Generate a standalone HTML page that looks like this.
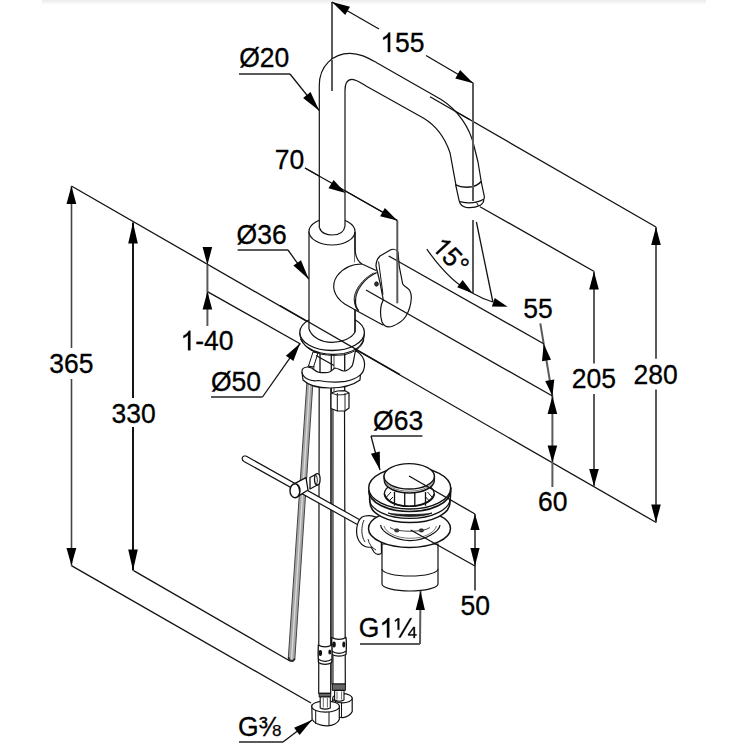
<!DOCTYPE html>
<html><head><meta charset="utf-8"><style>
html,body{margin:0;padding:0;background:#fff;}
svg{display:block;}
text{font-family:"Liberation Sans",sans-serif;fill:#000;stroke:#000;stroke-width:0.3px;}
</style></head><body>
<svg width="750" height="750" viewBox="0 0 750 750">
<defs><linearGradient id="tg" x1="0" y1="0" x2="0" y2="1"><stop offset="0" stop-color="#ebebeb"/><stop offset="1" stop-color="#fff"/></linearGradient></defs>
<rect x="42" y="0" width="664" height="5" fill="url(#tg)"/>
<line x1="71.4" y1="186.0" x2="656.2" y2="522.5" stroke="#111" stroke-width="1.3"/>
<line x1="71.4" y1="565.6" x2="311.0" y2="703.0" stroke="#111" stroke-width="1.3"/>
<line x1="133.6" y1="570.6" x2="290.0" y2="661.0" stroke="#111" stroke-width="1.3"/>
<line x1="207.4" y1="291.6" x2="300.5" y2="344.0" stroke="#111" stroke-width="1.3"/>
<line x1="71.5" y1="186.0" x2="71.5" y2="348.0" stroke="#444" stroke-width="1.6"/>
<line x1="71.5" y1="379.0" x2="71.5" y2="565.6" stroke="#444" stroke-width="1.6"/>
<polygon points="71.4,186.0 76.3,204.0 66.5,204.0" fill="#000"/>
<polygon points="71.4,565.6 66.5,548.0 76.3,548.0" fill="#000"/>
<g transform="translate(49.20,372.55) scale(1,1.05)"><text x="0.00" y="0" font-size="26.5">365</text></g>
<line x1="133.0" y1="222.4" x2="133.0" y2="398.0" stroke="#151515" stroke-width="2.0"/>
<line x1="133.0" y1="427.0" x2="133.0" y2="570.6" stroke="#151515" stroke-width="2.0"/>
<polygon points="133.0,222.4 137.8,243.4 128.2,243.4" fill="#000"/>
<polygon points="133.0,570.6 128.2,549.6 137.8,549.6" fill="#000"/>
<g transform="translate(111.60,422.55) scale(1,1.05)"><text x="0.00" y="0" font-size="26.5">330</text></g>
<polygon points="207.4,265.0 202.6,247.0 212.2,247.0" fill="#000"/>
<line x1="207.4" y1="265.0" x2="207.4" y2="326.0" stroke="#5a5a5a" stroke-width="2.0"/>
<polygon points="207.4,291.6 212.2,309.6 202.6,309.6" fill="#000"/>
<g transform="translate(180.50,350.25) scale(1,1.05)"><path d="M763 0H583V1115Q518 1055 412 995Q307 935 223 905V1074Q374 1143 487 1241Q600 1339 647 1430H763Z" transform="translate(0.00,0) scale(0.01294,-0.01294)" fill="#000" stroke="#000" stroke-width="23.2"/><text x="14.74" y="0" font-size="26.5">-40</text></g>
<line x1="332.0" y1="2.0" x2="332.0" y2="91.0" stroke="#5a5a5a" stroke-width="2.0"/>
<line x1="332.0" y1="2.0" x2="379.0" y2="29.0" stroke="#111" stroke-width="1.3"/>
<line x1="426.0" y1="55.5" x2="473.3" y2="83.3" stroke="#111" stroke-width="1.3"/>
<polygon points="332.0,2.0 350.0,6.8 345.2,15.1" fill="#000"/>
<polygon points="473.3,83.3 455.3,78.5 460.1,70.1" fill="#000"/>
<g transform="translate(380.30,52.05) scale(1,1.05)"><path d="M763 0H583V1115Q518 1055 412 995Q307 935 223 905V1074Q374 1143 487 1241Q600 1339 647 1430H763Z" transform="translate(0.00,0) scale(0.01294,-0.01294)" fill="#000" stroke="#000" stroke-width="23.2"/><text x="14.74" y="0" font-size="26.5">55</text></g>
<line x1="473.0" y1="83.0" x2="473.0" y2="201.0" stroke="#5a5a5a" stroke-width="2.0"/>
<line x1="473.0" y1="220.0" x2="473.0" y2="293.0" stroke="#5a5a5a" stroke-width="2.0"/>
<line x1="430.0" y1="96.7" x2="656.0" y2="227.0" stroke="#111" stroke-width="1.3"/>
<line x1="656.0" y1="227.0" x2="656.0" y2="358.8" stroke="#5a5a5a" stroke-width="2.0"/>
<line x1="656.0" y1="389.5" x2="656.0" y2="522.5" stroke="#5a5a5a" stroke-width="2.0"/>
<polygon points="656.0,227.0 660.8,245.0 651.2,245.0" fill="#000"/>
<polygon points="656.0,522.5 651.2,504.5 660.8,504.5" fill="#000"/>
<g transform="translate(633.60,384.05) scale(1,1.05)"><text x="0.00" y="0" font-size="26.5">280</text></g>
<line x1="480.0" y1="206.7" x2="594.2" y2="271.5" stroke="#111" stroke-width="1.3"/>
<line x1="594.0" y1="271.5" x2="594.0" y2="363.4" stroke="#5a5a5a" stroke-width="2.0"/>
<line x1="594.0" y1="394.0" x2="594.0" y2="486.0" stroke="#5a5a5a" stroke-width="2.0"/>
<polygon points="594.0,271.5 598.8,289.5 589.2,289.5" fill="#000"/>
<polygon points="594.0,486.0 589.2,469.0 598.8,469.0" fill="#000"/>
<g transform="translate(571.80,388.15) scale(1,1.05)"><text x="0.00" y="0" font-size="26.5">205</text></g>
<line x1="540.3" y1="323.3" x2="552.4" y2="396.0" stroke="#5a5a5a" stroke-width="2.0"/>
<polygon points="543.7,343.7 551.0,359.7 542.0,361.2" fill="#000"/>
<polygon points="552.4,396.0 545.2,381.0 554.3,379.5" fill="#000"/>
<g transform="translate(523.20,317.85) scale(1,1.05)"><text x="0.00" y="0" font-size="26.5">55</text></g>
<line x1="552.4" y1="396.0" x2="552.4" y2="487.0" stroke="#5a5a5a" stroke-width="2.0"/>
<polygon points="552.4,396.0 557.2,414.0 547.6,414.0" fill="#000"/>
<polygon points="552.4,462.4 547.6,445.4 557.2,445.4" fill="#000"/>
<g transform="translate(538.10,511.25) scale(1,1.05)"><text x="0.00" y="0" font-size="26.5">60</text></g>
<line x1="305.0" y1="168.0" x2="397.3" y2="220.5" stroke="#111" stroke-width="1.3"/>
<polygon points="397.3,220.5 380.1,216.3 384.9,207.9" fill="#000"/>
<g transform="translate(274.80,168.95) scale(1,1.05)"><text x="0.00" y="0" font-size="26.5">70</text></g>
<line x1="476.4" y1="222.0" x2="492.9" y2="302.0" stroke="#111" stroke-width="1.3"/>
<path d="M426.8,249.2 Q450,282 472.7,293.2 Q483,299 492.9,302" stroke="#111" stroke-width="1.2" fill="none" stroke-linejoin="round"/>
<polygon points="472.7,293.2 457.2,287.2 462.6,280.0" fill="#000"/>
<polygon points="507.6,306.8 491.9,306.4 494.7,297.9" fill="#000"/>
<g transform="translate(430.8,247.3) rotate(47)"><g transform="translate(0.00,0.30) scale(1,1.04)"><path d="M763 0H583V1115Q518 1055 412 995Q307 935 223 905V1074Q374 1143 487 1241Q600 1339 647 1430H763Z" transform="translate(0.00,0) scale(0.01270,-0.01270)" fill="#000" stroke="#000" stroke-width="23.6"/><text x="14.46" y="0" font-size="26">5°</text></g></g>
<line x1="475.0" y1="514.0" x2="475.0" y2="590.5" stroke="#5a5a5a" stroke-width="2.0"/>
<polygon points="475.0,514.0 479.6,530.0 470.4,530.0" fill="#000"/>
<polygon points="475.0,566.0 470.4,548.0 479.6,548.0" fill="#000"/>
<g transform="translate(460.60,615.15) scale(1,1.05)"><text x="0.00" y="0" font-size="26.5">50</text></g>
<g transform="translate(239.20,67.35) scale(1,1.05)"><text x="0.00" y="0" font-size="26.5">Ø20</text></g>
<line x1="239.0" y1="74.0" x2="290.0" y2="74.0" stroke="#5a5a5a" stroke-width="2.0"/>
<line x1="290.0" y1="74.0" x2="319.3" y2="110.7" stroke="#111" stroke-width="1.3"/>
<polygon points="319.3,110.7 303.1,98.0 310.5,92.1" fill="#000"/>
<g transform="translate(236.60,243.65) scale(1,1.05)"><text x="0.00" y="0" font-size="26.5">Ø36</text></g>
<line x1="237.6" y1="250.0" x2="288.0" y2="250.0" stroke="#5a5a5a" stroke-width="2.0"/>
<line x1="288.0" y1="250.0" x2="308.8" y2="279.2" stroke="#111" stroke-width="1.3"/>
<polygon points="308.8,279.2 293.4,265.6 301.0,260.2" fill="#000"/>
<g transform="translate(211.00,390.65) scale(1,1.05)"><text x="0.00" y="0" font-size="26.5">Ø50</text></g>
<line x1="211.0" y1="397.0" x2="262.5" y2="397.0" stroke="#5a5a5a" stroke-width="2.0"/>
<line x1="262.5" y1="397.0" x2="300.0" y2="343.6" stroke="#111" stroke-width="1.3"/>
<polygon points="300.0,343.6 293.4,361.0 285.9,355.7" fill="#000"/>
<g transform="translate(373.10,429.55) scale(1,1.05)"><text x="0.00" y="0" font-size="26.5">Ø63</text></g>
<line x1="371.0" y1="436.0" x2="422.4" y2="436.0" stroke="#5a5a5a" stroke-width="2.0"/>
<line x1="371.0" y1="436.0" x2="380.0" y2="470.0" stroke="#111" stroke-width="1.3"/>
<polygon points="380.0,470.0 370.9,453.8 379.8,451.4" fill="#000"/>
<g transform="translate(358.80,637.45) scale(1,1.05)"><text x="0.00" y="0" font-size="26.5">G</text><path d="M763 0H583V1115Q518 1055 412 995Q307 935 223 905V1074Q374 1143 487 1241Q600 1339 647 1430H763Z" transform="translate(20.61,0) scale(0.01294,-0.01294)" fill="#000" stroke="#000" stroke-width="23.2"/><path d="M267 563V1290L65 1152V1272L275 1409H398V563ZM493 0H345L1226 1409H1371ZM1605 148V-36H1497V148H1076V229L1485 776H1605V230H1730V148ZM1497 659Q1488 635 1454 590L1226 284L1191 241L1181 230H1497Z" transform="translate(35.35,0) scale(0.01294,-0.01294)" fill="#000" stroke="#000" stroke-width="23.2"/></g>
<line x1="360.0" y1="644.0" x2="420.0" y2="644.0" stroke="#5a5a5a" stroke-width="2.0"/>
<line x1="420.0" y1="644.0" x2="420.5" y2="591.0" stroke="#5a5a5a" stroke-width="2.0"/>
<polygon points="420.5,591.0 424.9,610.0 415.7,610.0" fill="#000"/>
<g transform="translate(238.00,736.05) scale(1,1.05)"><text x="0.00" y="0" font-size="26.5">G⅜</text></g>
<line x1="239.0" y1="742.0" x2="283.0" y2="742.0" stroke="#5a5a5a" stroke-width="2.0"/>
<line x1="283.0" y1="742.0" x2="312.0" y2="720.0" stroke="#111" stroke-width="1.3"/>
<polygon points="312.0,720.0 299.6,735.1 294.1,727.8" fill="#000"/>
<path d="M332,405 L332,684 L345.3,684 L344.5,405 Z" stroke="#111" stroke-width="1.2" fill="#fff" stroke-linejoin="round"/>
<line x1="333.3" y1="405.0" x2="333.3" y2="684.0" stroke="#666" stroke-width="1.0"/>
<path d="M331.8,637.5 C331.5,642 331.5,648 332,654.5 C336,656.5 342,656.5 346,654.5 C346.5,648 346.5,642 346,637.5 C342,640 336,640 331.8,637.5 Z" stroke="#111" stroke-width="1.3" fill="#fff" stroke-linejoin="round"/>
<path d="M332,651.3 C336,654 342,654 346,651.3" stroke="#111" stroke-width="1.3" fill="none" stroke-linejoin="round"/>
<ellipse cx="334" cy="644.5" rx="1.8" ry="3" stroke="#111" stroke-width="0" fill="#111"/>
<ellipse cx="343.8" cy="644.5" rx="1.5" ry="3" stroke="#111" stroke-width="0" fill="#111"/>
<path d="M332.3,684 L345.4,684 L345.4,690.4 L332.3,690.4 Z" stroke="#111" stroke-width="1.0" fill="#666" stroke-linejoin="round"/>
<path d="M332.6,698.5 L333,712.5 C336,716.5 340,717.8 343,717.6 C347,717.3 351,714.5 352.2,711.5 L352.2,697.8 Z" stroke="#111" stroke-width="1.2" fill="#fff" stroke-linejoin="round"/>
<ellipse cx="342.4" cy="698.2" rx="9.8" ry="4.6" stroke="#111" stroke-width="1.2" fill="#fff"/>
<line x1="341.5" y1="702.6" x2="341.5" y2="717.5" stroke="#111" stroke-width="1.0"/>
<line x1="337.0" y1="701.8" x2="337.0" y2="716.5" stroke="#666" stroke-width="0.7"/>
<path d="M334.6,690.4 L344,690.4 L344,700 C341,701.5 337.5,701.5 334.6,700 Z" stroke="#111" stroke-width="1.1" fill="#fff" stroke-linejoin="round"/>
<line x1="337.0" y1="691.5" x2="337.0" y2="699.5" stroke="#444" stroke-width="0.8"/>
<line x1="341.6" y1="691.5" x2="341.6" y2="699.5" stroke="#444" stroke-width="0.8"/>
<path d="M319.2,380 L318.7,693.3 L330.7,693.3 L330.9,380 Z" stroke="#111" stroke-width="1.2" fill="#fff" stroke-linejoin="round"/>
<path d="M318.3,645 C318,650 318,656 318.5,662.5 C322,665 328,665 331.8,662.5 C332.2,656 332.2,650 331.8,645 C328,647.5 322,647.5 318.3,645 Z" stroke="#111" stroke-width="1.3" fill="#fff" stroke-linejoin="round"/>
<path d="M318.5,659.3 C322,662 328,662 331.8,659.3" stroke="#111" stroke-width="1.3" fill="none" stroke-linejoin="round"/>
<ellipse cx="320.3" cy="653" rx="1.8" ry="3" stroke="#111" stroke-width="0" fill="#111"/>
<ellipse cx="329.8" cy="652" rx="1.5" ry="2.6" stroke="#111" stroke-width="0" fill="#111"/>
<path d="M319.2,693.3 L330.7,693.3 L330.7,697 L319.2,697 Z" stroke="#111" stroke-width="1.0" fill="#666" stroke-linejoin="round"/>
<path d="M311.8,705 L312.1,719.5 C314,723 320,725.8 327,725.8 C333,725.8 338,723 339.3,719.5 L339.3,706 Z" stroke="#111" stroke-width="1.2" fill="#fff" stroke-linejoin="round"/>
<ellipse cx="325.6" cy="706.5" rx="13.8" ry="5.6" stroke="#111" stroke-width="1.2" fill="#fff"/>
<line x1="315.7" y1="710.0" x2="315.7" y2="724.0" stroke="#111" stroke-width="1.0"/>
<line x1="329.0" y1="712.0" x2="329.0" y2="725.6" stroke="#111" stroke-width="1.0"/>
<path d="M320.2,697 L330.3,697 L330.3,708 C327,709.5 323.5,709.5 320.2,708 Z" stroke="#111" stroke-width="1.1" fill="#fff" stroke-linejoin="round"/>
<line x1="323.3" y1="698.0" x2="323.3" y2="707.5" stroke="#444" stroke-width="0.8"/>
<line x1="327.4" y1="698.0" x2="327.4" y2="707.5" stroke="#444" stroke-width="0.8"/>
<path d="M308,366 L288.3,658 C288.5,661.5 293.5,662 294.8,659.5 L314,366 Z" stroke="#444" stroke-width="1.0" fill="#a8a8a8" stroke-linejoin="round"/>
<line x1="311.0" y1="366.0" x2="291.6" y2="659.0" stroke="#dcdcdc" stroke-width="1.3"/>
<path d="M288.6,657 C288.5,661.5 293.5,662.5 294.6,658.5" stroke="#222" stroke-width="1.6" fill="none" stroke-linejoin="round"/>
<path d="M246,456 L362,521 L360,526 L244,461.5 C241.5,460 241.5,457 244,456 Z" stroke="#111" stroke-width="1.2" fill="#fff" stroke-linejoin="round"/>
<path d="M310,477.5 L317.3,473.6 L317.3,485 L310,489 Z" stroke="#111" stroke-width="1.3" fill="#fff" stroke-linejoin="round"/>
<ellipse cx="317.3" cy="479.3" rx="2.8" ry="5.7" stroke="#111" stroke-width="1.3" fill="#fff"/>
<path d="M316,475 C317.5,477 317.8,482 316.5,484.5" stroke="#111" stroke-width="0.9" fill="none" stroke-linejoin="round"/>
<path d="M294.5,483.6 L306,477.6 L308,490 L296,497.6 Z" stroke="#111" stroke-width="1.3" fill="#fff" stroke-linejoin="round"/>
<ellipse cx="295" cy="490.7" rx="5" ry="7" stroke="#111" stroke-width="1.4" fill="#fff"/>
<path d="M296.8,484.8 C299.5,487 300.3,494 298.5,496.5" stroke="#111" stroke-width="1.0" fill="none" stroke-linejoin="round"/>
<path d="M362,517 C356,522 355,534 359,541 C362,546 367,548 371,547 L374,552 C376,555 380,555 381.5,553 L381,520 C376,516 368,514 362,517 Z" stroke="#111" stroke-width="1.2" fill="#fff" stroke-linejoin="round"/>
<path d="M368,539 C369,544 372,548 376,550" stroke="#111" stroke-width="0.9" fill="none" stroke-linejoin="round"/>
<path d="M364,520 C361,527 361,536 365,542" stroke="#111" stroke-width="0.9" fill="none" stroke-linejoin="round"/>
<path d="M382,544 L382,584 A28,7 0 0 0 438,584 L438,544 Z" stroke="#111" stroke-width="1.2" fill="#fff" stroke-linejoin="round"/>
<path d="M382,569 A28,7 0 0 0 438,569" stroke="#111" stroke-width="1.1" fill="none" stroke-linejoin="round"/>
<ellipse cx="409.5" cy="528.5" rx="41" ry="19" stroke="#111" stroke-width="1.5" fill="#fff"/>
<path d="M380.6,525 C381,531 394,540.6 410.3,540.6 C426,540.6 439.5,531 440,525" stroke="#111" stroke-width="1.2" fill="none" stroke-linejoin="round"/>
<path d="M384,526 C386,533 397,538.3 410.3,538.3 C424,538.3 434.5,533 436.5,526" stroke="#555" stroke-width="0.8" fill="none" stroke-linejoin="round"/>
<ellipse cx="396.8" cy="530.4" rx="2.3" ry="1.7" stroke="#111" stroke-width="0.6" fill="#333"/>
<ellipse cx="421.4" cy="530.4" rx="2.3" ry="1.7" stroke="#111" stroke-width="0.6" fill="#333"/>
<path d="M390,527.5 C396,532.5 424,532.5 430,527.5" stroke="#444" stroke-width="1.0" fill="none" stroke-linejoin="round"/>
<path d="M369,488 L370,502.8 A40,19.8 0 0 0 450,502.8 L451,488 Z" stroke="#111" stroke-width="1.5" fill="#fff" stroke-linejoin="round"/>
<path d="M368.9,491.0 A40.8,20.5 0 0 0 450.5,491.0" stroke="#111" stroke-width="1.7" fill="none" stroke-linejoin="round"/>
<path d="M388,513 C396,517.5 424,517.5 432,513 C424,515 396,515 388,513 Z" stroke="#111" stroke-width="0.8" fill="#222" stroke-linejoin="round"/>
<path d="M369.3,498.6 A40.4,19.8 0 0 0 450.1,498.6" stroke="#111" stroke-width="1.2" fill="none" stroke-linejoin="round"/>
<ellipse cx="409.7" cy="488" rx="41" ry="21" stroke="#111" stroke-width="1.4" fill="#fff"/>
<ellipse cx="409.3" cy="493.8" rx="25" ry="12.5" stroke="#111" stroke-width="1.3" fill="none"/>
<path d="M384.5,494 C386,501 396,506.3 409.3,506.3 C422,506.3 432.5,501 434.2,494" stroke="#111" stroke-width="1.6" fill="none" stroke-linejoin="round"/>
<line x1="394.5" y1="492.0" x2="394.5" y2="505.7" stroke="#111" stroke-width="1.3"/>
<line x1="404.7" y1="492.0" x2="404.7" y2="505.7" stroke="#111" stroke-width="1.3"/>
<line x1="414.8" y1="492.0" x2="414.8" y2="505.7" stroke="#111" stroke-width="1.3"/>
<line x1="425.5" y1="492.0" x2="425.5" y2="505.7" stroke="#111" stroke-width="1.3"/>
<path d="M386.5,497 L391,492 M389,501 L393,497 M432,497 L427.5,492 M429.5,501 L425.5,497" stroke="#111" stroke-width="1.0" fill="none" stroke-linejoin="round"/>
<path d="M384,476.3 L384.3,480.3 A25,12.7 0 0 0 434.3,480.3 L434.4,476.3 Z" stroke="#111" stroke-width="1.5" fill="#fff" stroke-linejoin="round"/>
<path d="M384.5,478.5 A24.8,12.7 0 0 0 434.1,478.5" stroke="#555" stroke-width="0.8" fill="none" stroke-linejoin="round"/>
<ellipse cx="409.2" cy="476.3" rx="25.2" ry="12.7" stroke="#111" stroke-width="1.4" fill="#fff"/>
<line x1="320.0" y1="354.0" x2="320.0" y2="380.0" stroke="#111" stroke-width="1.3"/>
<line x1="331.3" y1="354.0" x2="331.3" y2="392.0" stroke="#111" stroke-width="1.3"/>
<line x1="334.0" y1="354.0" x2="334.0" y2="392.0" stroke="#111" stroke-width="0.8"/>
<line x1="344.7" y1="354.0" x2="344.7" y2="392.0" stroke="#111" stroke-width="1.3"/>
<path d="M313,352 L318,353 L313.5,367 L308.5,366 Z" stroke="#111" stroke-width="1.0" fill="#fff" stroke-linejoin="round"/>
<path d="M355.7,350.6 C361,354 364.6,359 364.6,364 C364.6,369 363.6,372 360.4,375 L360,380 C352,386 340,388 330,388 C318,388 308,385 303,380 L302,372.1 C301.6,369 303,367.5 307.1,367 C310,366.8 312,367.4 315.5,370.7 C318,373 322,373 327.7,372.5 C331,372 332.3,369.7 335,368 C338,368 341,371 344,371 C348,371 350,368 352,366 C354,362 354,355 355.7,350.6 Z" stroke="#111" stroke-width="1.2" fill="#fff" stroke-linejoin="round"/>
<path d="M302,372.1 C303,378 310,382 318.3,380.5 C326,382 338,382.5 345.4,381.4 C352,380 358,377 360.4,374.9" stroke="#111" stroke-width="1.1" fill="none" stroke-linejoin="round"/>
<path d="M331,393 L337.3,391 L345,390.7 L349,393 L349,408 L345,411 L337.3,411 L331,408.5 Z" stroke="#111" stroke-width="1.2" fill="#fff" stroke-linejoin="round"/>
<line x1="337.3" y1="393.0" x2="337.3" y2="411.0" stroke="#111" stroke-width="1.0"/>
<line x1="345.0" y1="393.0" x2="345.0" y2="411.0" stroke="#111" stroke-width="0.9"/>
<path d="M331,393 L337.3,395 L345,394.5 L349,393" stroke="#111" stroke-width="0.9" fill="none" stroke-linejoin="round"/>
<path d="M299.8,332.5 L300.3,336.5 C302,345 311,351 321,353 C328,354.5 337,354.5 344,353.5 C355,351 363,345.5 364,337 L364.4,332.5 Z" stroke="#111" stroke-width="1.2" fill="#fff" stroke-linejoin="round"/>
<path d="M300.5,339 C304,347 313,352.5 322,354.3 C329,355.6 337,355.6 344,354.8 C354,352.6 362,347.5 363.8,340" stroke="#111" stroke-width="1.0" fill="none" stroke-linejoin="round"/>
<ellipse cx="332.1" cy="332.5" rx="32.3" ry="18" stroke="#111" stroke-width="1.3" fill="#fff"/>
<path d="M309,231.5 L309,329 C312,338 322,342 332,342.4 C342,342.4 352,338 355,332 L355,232 Z" stroke="#111" stroke-width="1.2" fill="#fff" stroke-linejoin="round"/>
<ellipse cx="332" cy="231.5" rx="23" ry="13.5" stroke="#111" stroke-width="1.2" fill="#fff"/>
<path d="M319.6,228 C321,233 327,235 332,235 C338,235 344,233 345,226" stroke="#111" stroke-width="1.2" fill="none" stroke-linejoin="round"/>
<path d="M355,248 C355,255.5 357.5,261 362,264 L400,285 L395,328 L383.3,325.3 L356.7,310.7 C350,307 346,306 344.7,304 C333,296 331,285 337,276 C343,268 350,265 355,262 Z" stroke="#111" stroke-width="0" fill="#fff" stroke-linejoin="round"/>
<path d="M355,232 L355,248 C355,255.5 357.5,261 362,264 L376.7,270.7" stroke="#111" stroke-width="1.2" fill="none" stroke-linejoin="round"/>
<path d="M362,264 C352,264 343,268 337,276 C331,285 333,296 344.7,304 L356.7,310.7 L383.3,325.3" stroke="#111" stroke-width="1.2" fill="none" stroke-linejoin="round"/>
<path d="M355,309.3 L355,332" stroke="#111" stroke-width="1.2" fill="none" stroke-linejoin="round"/>
<path d="M376.7,272.7 C364,278 356,290 355.5,299 C355,305 357,309 358.7,310.7" stroke="#111" stroke-width="1.4" fill="none" stroke-linejoin="round"/>
<path d="M373.5,273 C362,279.5 354.2,290.5 354.2,299 C354.2,304 356,308.5 357.8,310.3" stroke="#111" stroke-width="1.0" fill="none" stroke-linejoin="round"/>
<path d="M374.5,272.8 C363,279 355.3,290.3 355,299" stroke="#888" stroke-width="0.7" fill="none" stroke-linejoin="round"/>
<path d="M376,266 C376,262 377,259 380,256 L389,250.7 C392,249 396,248.7 398,252 L399.3,266.7 L402.7,284 C404,286 406,287 407.3,288 C410,290 411.5,293 411.3,298 C411,304 409,311 406,316 C403,321 398,324 393,326 C388,328 384,326 382,322 C380,316 380.5,310 381,306.7 C381.5,303 383,301 383.3,300 L380,282.7 Z" stroke="#111" stroke-width="1.2" fill="#fff" stroke-linejoin="round"/>
<ellipse cx="376.5" cy="284" rx="1.9" ry="2.2" stroke="#111" stroke-width="0.8" fill="#333"/>
<path d="M378.6,261.5 L383,294.5" stroke="#111" stroke-width="1.0" fill="none" stroke-linejoin="round"/>
<path d="M319.3,228 L319.3,85.3 C319.3,66 333,53.3 350,53.3 C360,53.3 368,58 376.7,62.7 L440.7,99.3 C458,110 470,128 474,146 L478,162 L481.3,182 L456,185.3 L450,152.7 C445,138 435,125 423.3,118 L366,86 C360,82 356,79.3 352,79.3 C348,79.3 345,83 345,90.7 L345,226 Z" stroke="#111" stroke-width="0" fill="#fff" stroke-linejoin="round"/>
<path d="M319.3,228 L319.3,85.3 C319.3,66 333,53.3 350,53.3 C360,53.3 368,58 376.7,62.7 L440.7,99.3 C458,110 470,128 474,146 L478,162 L481.3,182" stroke="#111" stroke-width="1.2" fill="none" stroke-linejoin="round"/>
<path d="M345,226 L345,90.7 C345,83 348,79.3 352,79.3 C356,79.3 360,82 366,86 L423.3,118 C435,125 445,138 450,152.7 L456,185.3" stroke="#111" stroke-width="1.2" fill="none" stroke-linejoin="round"/>
<path d="M455.6,184.5 L459.2,200.8 C460,204 462,206.5 466,207.3 C470,208 476,207.2 480,205.4 C482.5,204 483.8,202 483.8,199.6 L484.4,196.8 L481.2,181.6" stroke="#111" stroke-width="1.2" fill="none" stroke-linejoin="round"/>
<path d="M455.6,184.8 C460,187 466,187.6 472,186.7 C476,186 479,184 481.2,181.6" stroke="#111" stroke-width="1.5" fill="none" stroke-linejoin="round"/>
<path d="M460,201.6 C464,203 472,203.2 476,202.2 C479,201.4 481.5,200.5 483.6,199.2" stroke="#111" stroke-width="1.2" fill="none" stroke-linejoin="round"/>
<path d="M476.5,202.4 L478.5,205.8" stroke="#111" stroke-width="1.0" fill="none" stroke-linejoin="round"/>
<line x1="280.0" y1="305.5" x2="400.0" y2="374.6" stroke="#111" stroke-width="1.3"/>
<line x1="316.0" y1="355.5" x2="334.0" y2="365.5" stroke="#111" stroke-width="1.3"/>
<line x1="388.7" y1="256.0" x2="543.7" y2="343.7" stroke="#111" stroke-width="1.3"/>
<line x1="366.0" y1="290.0" x2="552.4" y2="396.0" stroke="#111" stroke-width="1.3"/>
<line x1="397.3" y1="220.5" x2="397.3" y2="303.3" stroke="#5a5a5a" stroke-width="2.0"/>
<line x1="409.0" y1="476.0" x2="475.0" y2="514.0" stroke="#111" stroke-width="1.3"/>
<line x1="410.7" y1="530.0" x2="475.0" y2="566.0" stroke="#111" stroke-width="1.3"/>
<line x1="332.0" y1="60.0" x2="332.0" y2="91.0" stroke="#5a5a5a" stroke-width="2.0"/>
<line x1="430.0" y1="96.7" x2="470.0" y2="119.7" stroke="#111" stroke-width="1.3"/>
<line x1="473.0" y1="83.0" x2="473.0" y2="201.0" stroke="#5a5a5a" stroke-width="2.0"/>
<line x1="305.0" y1="168.0" x2="397.3" y2="220.5" stroke="#111" stroke-width="1.3"/>
<polygon points="345.5,193.0 328.5,188.2 333.6,180.0" fill="#000"/>
</svg></body></html>
